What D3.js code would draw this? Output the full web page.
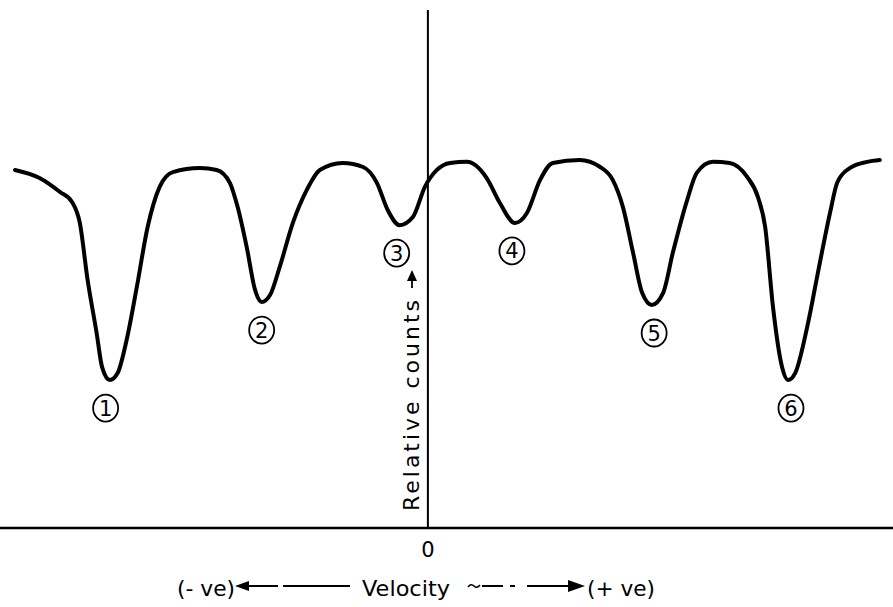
<!DOCTYPE html>
<html>
<head>
<meta charset="utf-8">
<script src="https://cdn.jsdelivr.net/npm/d3@7"></script>
<style>
  body { margin: 0; background: #fff; }
  svg { display: block; }
  text { font-family: "DejaVu Sans", "Liberation Sans", sans-serif; fill: #000; }
</style>
</head>
<body>
<svg id="chart" width="893" height="607"></svg>
<script>
// Mossbauer sextet (velocity in mm/s, counts in % of baseline)
var velocity = [-6.88, -6.47, -6.13, -5.93, -5.80, -5.67, -5.52, -5.43, -5.30, -5.17,
  -5.02, -4.85, -4.67, -4.47, -4.25, -3.80, -3.52, -3.30, -3.17, -3.02,
  -2.88, -2.77, -2.63, -2.47, -2.25, -2.02, -1.80, -1.42, -1.08, -0.85,
  -0.67, -0.47, -0.25, -0.05, 0.15, 0.37, 0.65, 0.98, 1.20, 1.45,
  1.65, 1.87, 2.08, 2.53, 2.87, 3.08, 3.25, 3.42, 3.57, 3.73,
  3.92, 4.08, 4.32, 4.48, 4.75, 5.03, 5.32, 5.50, 5.62, 5.75,
  5.90, 6.00, 6.12, 6.32, 6.53, 6.70, 6.82, 7.03, 7.32, 7.53];
var counts = [97.3, 95.1, 91.3, 88.6, 82.9, 67.4, 53.0, 43.8, 40.2, 42.1,
  51.1, 65.5, 81.8, 92.7, 96.7, 97.8, 97.3, 93.8, 87.2, 76.4,
  64.7, 61.4, 63.3, 70.9, 82.9, 91.8, 97.3, 99.2, 98.1, 93.8,
  86.4, 82.3, 84.5, 92.7, 97.3, 99.2, 99.5, 95.1, 88.3, 82.9,
  85.6, 94.6, 99.2, 100, 98.1, 94.6, 87.2, 74.7, 63.9, 60.6,
  63.9, 74.7, 89.1, 96.5, 99.5, 99.2, 95.4, 89.9, 81.8, 60.1,
  43.8, 40.2, 42.1, 54.6, 72.0, 85.6, 93.8, 97.8, 99.5, 100];

var peakLabels = ["1", "2", "3", "4", "5", "6"];
var peakVel = [-5.37, -2.77, -0.52, 1.40, 3.77, 6.05];
var peakCount = [40.2, 61.4, 82.3, 82.9, 60.6, 40.2];

var svg = d3.select("#chart");

var x = d3.scaleLinear().domain([-7.13, 7.75]).range([0, 893]);
var y = d3.scaleLinear().domain([0, 100]).range([528, 160]);

var data = velocity.map(function(v, i) { return { v: v, c: counts[i] }; });

// axes: plain lines, no ticks
svg.append("line")
  .attr("x1", 0).attr("x2", 893)
  .attr("y1", y(0)).attr("y2", y(0))
  .attr("stroke", "#000").attr("stroke-width", 2.5);

svg.append("line")
  .attr("x1", x(0)).attr("x2", x(0))
  .attr("y1", 10).attr("y2", y(0))
  .attr("stroke", "#000").attr("stroke-width", 2);

// spectrum
var line = d3.line()
  .x(function(d) { return x(d.v); })
  .y(function(d) { return y(d.c); })
  .curve(d3.curveMonotoneX);

svg.append("path")
  .datum(data)
  .attr("d", line)
  .attr("fill", "none")
  .attr("stroke", "#000")
  .attr("stroke-width", 4)
  .attr("stroke-linejoin", "round")
  .attr("stroke-linecap", "round");

// circled peak numbers
var lab = svg.selectAll("g.peak")
  .data(peakLabels)
  .enter().append("g")
  .attr("class", "peak")
  .attr("transform", function(d, i) {
    return "translate(" + x(peakVel[i]) + "," + (y(peakCount[i]) + 28) + ")";
  });

lab.append("ellipse")
  .attr("rx", 12.5)
  .attr("ry", 13.5)
  .attr("fill", "none")
  .attr("stroke", "#000")
  .attr("stroke-width", 1.8);

lab.append("text")
  .attr("text-anchor", "middle")
  .attr("dy", "0.36em")
  .attr("font-size", 21)
  .text(function(d) { return d; });

// zero label
svg.append("text")
  .attr("x", x(0)).attr("y", 557)
  .attr("text-anchor", "middle")
  .attr("font-size", 21)
  .text("0");

// y label, rotated, with little arrow
svg.append("text")
  .attr("transform", "translate(419,511) rotate(-90)")
  .attr("font-size", 22)
  .attr("textLength", 211)
  .attr("lengthAdjust", "spacing")
  .text("Relative counts");

svg.append("line")
  .attr("x1", 412).attr("x2", 412)
  .attr("y1", 288).attr("y2", 277)
  .attr("stroke", "#000").attr("stroke-width", 1.8);
svg.append("path")
  .attr("d", "M407,281 L412,270 L417,281 Z")
  .attr("fill", "#000");

// velocity caption
var cy = 596, ly = 586;
svg.append("text")
  .attr("x", 177).attr("y", cy)
  .attr("font-size", 22)
  .attr("textLength", 58)
  .attr("lengthAdjust", "spacingAndGlyphs")
  .text("(- ve)");

svg.append("path")
  .attr("d", "M235," + ly + " L249," + (ly - 5) + " L249," + (ly + 5) + " Z")
  .attr("fill", "#000");
[[245, 278], [283, 350], [482, 503], [510, 515], [527, 572]].forEach(function(s) {
  svg.append("line")
    .attr("x1", s[0]).attr("x2", s[1]).attr("y1", ly).attr("y2", ly)
    .attr("stroke", "#000").attr("stroke-width", 2);
});
svg.append("path")
  .attr("d", "M468," + (ly + 1) + " Q471," + (ly - 3) + " 474," + ly + " T480," + (ly - 1))
  .attr("fill", "none")
  .attr("stroke", "#000").attr("stroke-width", 1.6);
svg.append("path")
  .attr("d", "M585," + ly + " L568," + (ly - 6) + " L568," + (ly + 6) + " Z")
  .attr("fill", "#000");

svg.append("text")
  .attr("x", 362).attr("y", cy)
  .attr("font-size", 22)
  .attr("textLength", 88)
  .attr("lengthAdjust", "spacingAndGlyphs")
  .text("Velocity");

svg.append("text")
  .attr("x", 587).attr("y", cy)
  .attr("font-size", 22)
  .attr("textLength", 68)
  .attr("lengthAdjust", "spacingAndGlyphs")
  .text("(+ ve)");
</script>
</body>
</html>
